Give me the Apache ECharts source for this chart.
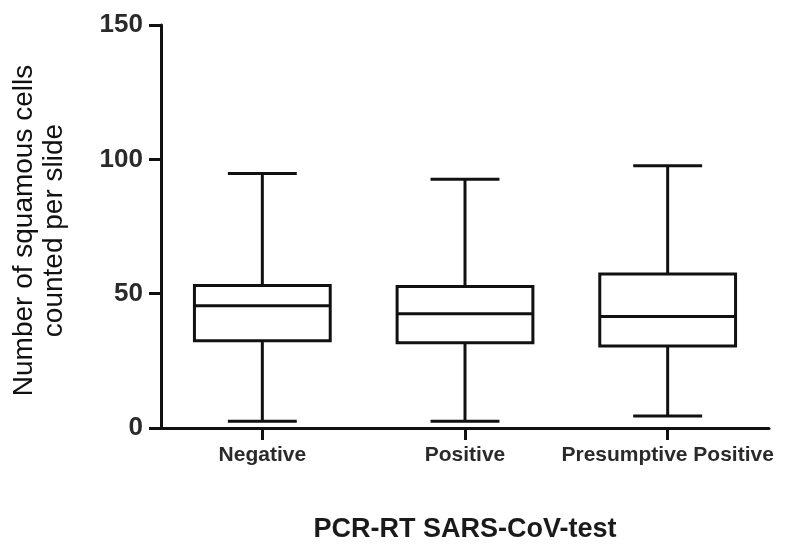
<!DOCTYPE html>
<html>
<head>
<meta charset="utf-8">
<script src="https://cdn.jsdelivr.net/npm/echarts@6/dist/echarts.min.js"></script>
<style>html,body{margin:0;padding:0;background:#fff;}#chart{width:799px;height:544px;}</style>
</head>
<body>
<div id="chart"></div>
<script>
const categories = ['Negative', 'Positive', 'Presumptive Positive'];
const minVals = [2.5, 2.5, 4.5];
const q1Vals = [32.5, 31.7, 30.5];
const medianVals = [45.5, 42.5, 41.5];
const q3Vals = [53, 52.7, 57.3];
const maxVals = [94.7, 92.6, 97.6];
const yTicks = { min: 0, max: 150, interval: 50 };

const FONT = '"Liberation Sans", Arial, Helvetica, sans-serif';
const INK = '#111';

const boxData = categories.map((c, i) => [i, minVals[i], q1Vals[i], medianVals[i], q3Vals[i], maxVals[i]]);

function renderBox(params, api) {
  const idx = api.value(0);
  const band = api.size([1, 0])[0];
  const boxW = band * 0.67;
  const capW = band * 0.34;
  const pMin = api.coord([idx, api.value(1)]);
  const pQ1 = api.coord([idx, api.value(2)]);
  const pMed = api.coord([idx, api.value(3)]);
  const pQ3 = api.coord([idx, api.value(4)]);
  const pMax = api.coord([idx, api.value(5)]);
  const cx = pMed[0];
  const st = { stroke: INK, lineWidth: 3, fill: null };
  return {
    type: 'group',
    children: [
      { type: 'rect', shape: { x: cx - boxW / 2, y: pQ3[1], width: boxW, height: pQ1[1] - pQ3[1] }, style: { stroke: INK, lineWidth: 3, fill: '#fff' } },
      { type: 'line', shape: { x1: cx - boxW / 2, y1: pMed[1], x2: cx + boxW / 2, y2: pMed[1] }, style: st },
      { type: 'line', shape: { x1: cx, y1: pQ3[1], x2: cx, y2: pMax[1] }, style: st },
      { type: 'line', shape: { x1: cx, y1: pQ1[1], x2: cx, y2: pMin[1] }, style: st },
      { type: 'line', shape: { x1: cx - capW / 2, y1: pMax[1], x2: cx + capW / 2, y2: pMax[1] }, style: st },
      { type: 'line', shape: { x1: cx - capW / 2, y1: pMin[1], x2: cx + capW / 2, y2: pMin[1] }, style: st }
    ]
  };
}

const chart = echarts.init(document.getElementById('chart'), null, { renderer: 'canvas' });
chart.setOption({
  backgroundColor: '#fff',
  animation: false,
  grid: { left: 161, right: 30, top: 25, bottom: 116, containLabel: false, outerBoundsMode: 'none' },
  xAxis: {
    type: 'category',
    data: categories,
    boundaryGap: true,
    name: 'PCR-RT SARS-CoV-test',
    nameLocation: 'middle',
    nameGap: 88,
    nameTextStyle: { fontFamily: FONT, fontWeight: 'bold', fontSize: 27, color: '#1a1a1a' },
    axisLine: { show: true, lineStyle: { color: INK, width: 3 } },
    axisTick: { show: true, alignWithLabel: true, length: 12, lineStyle: { color: INK, width: 3 } },
    axisLabel: { interval: 0, hideOverlap: false, fontFamily: FONT, fontWeight: 'bold', fontSize: 21, color: '#2a2a2a', margin: 17 },
    splitLine: { show: false }
  },
  yAxis: {
    type: 'value',
    min: yTicks.min,
    max: yTicks.max,
    interval: yTicks.interval,
    name: 'Number of squamous cells\ncounted per slide',
    nameLocation: 'middle',
    nameGap: 92,
    nameRotate: 90,
    nameTextStyle: { fontFamily: FONT, fontSize: 28, lineHeight: 30, color: '#111', padding: [0, 8, 0, 0] },
    axisLine: { show: true, lineStyle: { color: INK, width: 3 } },
    axisTick: { show: true, length: 12, lineStyle: { color: INK, width: 3 } },
    axisLabel: { fontFamily: FONT, fontWeight: 'bold', fontSize: 26, color: '#2a2a2a', margin: 18 },
    splitLine: { show: false }
  },
  series: [{
    type: 'custom',
    renderItem: renderBox,
    data: boxData,
    encode: { x: 0, y: [1, 2, 3, 4, 5] },
    z: 3
  }]
});
</script>
</body>
</html>
